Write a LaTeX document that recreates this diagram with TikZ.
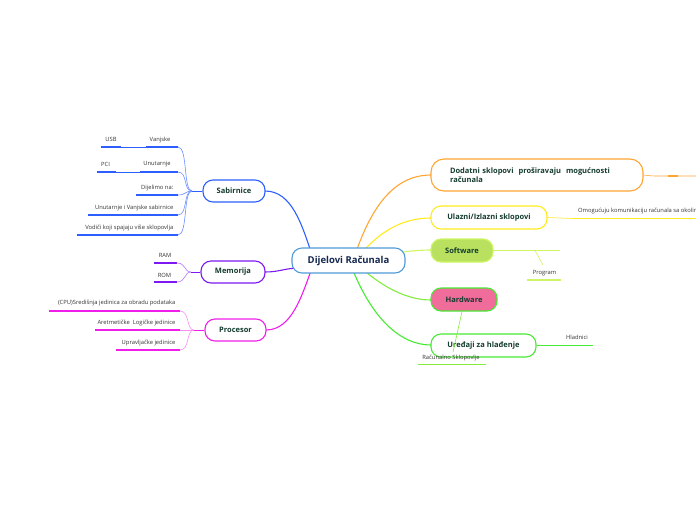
\documentclass[tikz,border=0pt]{standalone}
\usepackage{fontspec}
\setmainfont{Open Sans}
\begin{document}
\begin{tikzpicture}[x=1pt,y=-1pt,
  main/.style={draw=cblue!70!white,line width=1.1pt,fill=white,rounded corners=10pt,minimum width=113pt,minimum height=25pt,inner sep=0pt,font=\fontsize{9.5}{11}\bfseries\selectfont,text=tnavy},
  topic/.style={line width=1.1pt,fill=white,rounded corners=10pt,minimum height=22pt,inner sep=0pt,font=\fontsize{7.5}{9}\bfseries\selectfont,text=tgreen},
  leaf/.style={inner sep=0pt,font=\fontsize{5.8}{6.5}\selectfont,text=black!80},
  uline/.style={line width=1.6pt},
  conn/.style={line width=0.6pt},
  big/.style={line width=1.1pt}
]
\definecolor{cblue}{RGB}{40,100,200}
\definecolor{tnavy}{RGB}{20,40,80}
\definecolor{tgreen}{RGB}{20,60,45}
\definecolor{sab}{RGB}{45,95,255}
\definecolor{mem}{RGB}{125,25,240}
\definecolor{pro}{RGB}{240,30,235}
\definecolor{ora}{RGB}{255,165,50}
\definecolor{yel}{RGB}{255,235,30}
\definecolor{sw}{RGB}{185,225,95}
\definecolor{swl}{RGB}{205,245,100}
\definecolor{hw}{RGB}{240,108,155}
\definecolor{grn}{RGB}{70,235,50}
\definecolor{lgrn}{RGB}{130,235,60}
\definecolor{cenb}{RGB}{80,155,215}
\useasboundingbox (0,0) rectangle (696,520);

% ---- main curves (drawn first, covered by nodes)
\draw[big,sab] (265,191) .. controls (292,191) and (302,225) .. (312,255);
\draw[big,mem] (265,272) .. controls (280,272) and (285,268) .. (300,268);
\draw[big,pro] (266,330) .. controls (292,330) and (302,295) .. (312,268);
\draw[big,ora] (355,255) .. controls (372,205) and (395,175) .. (431,175);
\draw[big,yel] (360,255) .. controls (385,225) and (410,218) .. (431,218);
\draw[big,swl] (395,253) .. controls (410,251) and (420,250) .. (431,250);
\draw[big,lgrn] (358,265) .. controls (385,290) and (410,300) .. (431,300);
\draw[big,grn] (352,268) .. controls (372,318) and (400,345) .. (431,345);

% ---- main nodes
\node[main,draw=cenb] (root) at (348.5,260.5) {Dijelovi Računala};
\node[topic,draw=sab,minimum width=62pt] (sabn) at (234,191) {Sabirnice};
\node[topic,draw=mem,minimum width=64pt] (memn) at (233,272) {Memorija};
\node[topic,draw=pro,minimum width=61pt] (pron) at (235.5,330) {Procesor};
\node[topic,draw=ora,minimum width=212pt,minimum height=32pt,align=left,text width=174pt,rounded corners=13pt] (dod) at (537,175) {Dodatni sklopovi\ \ proširavaju\ \ mogućnosti\\računala};
\node[topic,draw=yel,minimum width=116pt,minimum height=23pt] (ulaz) at (489,217.5) {Ulazni/Izlazni sklopovi};
\node[topic,draw=swl,fill=sw,minimum width=62pt,minimum height=23pt] (soft) at (462,250.5) {Software};
\node[topic,draw=grn,fill=hw,minimum width=66pt,minimum height=23pt] (hard) at (464,299.5) {Hardware};
\node[topic,draw=grn,minimum width=105pt,minimum height=23pt] (ured) at (483.5,345.5) {Uređaji za hlađenje};

% ---- Sabirnice leaves
\coordinate (sj) at (192,191);
\draw[conn,sab] (sabn.west) -- (sj);
\node[leaf] (vanj) at (160,139.5) {Vanjske};
\node[leaf] (usb) at (111,139.5) {USB};
\coordinate (vanjA) at (146,147); \coordinate (vanjB) at (178,147);
\coordinate (usbA) at (101,147); \coordinate (usbB) at (121,147);
\draw[uline,sab] (vanjA) -- (vanjB); \draw[uline,sab] (usbA) -- (usbB);
\draw[conn,sab] (usbB) -- (vanjA);
\node[leaf] (unut) at (157,164) {Unutarnje};
\node[leaf] (pci) at (105.5,164) {PCI};
\coordinate (unutA) at (140,172); \coordinate (unutB) at (178,172);
\coordinate (pciA) at (97,172); \coordinate (pciB) at (116,172);
\draw[uline,sab] (unutA) -- (unutB); \draw[uline,sab] (pciA) -- (pciB);
\draw[conn,sab] (pciB) -- (unutA);
\node[leaf,anchor=east] (dij) at (173.5,188) {Dijelimo na:};
\coordinate (dijA) at (136,195); \coordinate (dijB) at (178,195);
\draw[uline,sab] (dijA) -- (dijB);
\node[leaf,anchor=east] (uiv) at (173.5,208) {Unutarnje i Vanjske sabirnice};
\coordinate (uivA) at (88,215); \coordinate (uivB) at (178,215);
\draw[uline,sab] (uivA) -- (uivB);
\node[leaf,anchor=east] (vod) at (173.5,228) {Vodiči koji spajaju više sklopovlja};
\coordinate (vodA) at (77,235); \coordinate (vodB) at (178,235);
\draw[uline,sab] (vodA) -- (vodB);
\draw[conn,sab!70!white] (sj) .. controls (183,191) and (188,147) .. (vanjB);
\draw[conn,sab!70!white] (sj) .. controls (183,191) and (188,172) .. (unutB);
\draw[conn,sab!70!white] (sj) .. controls (185,191) and (186,195) .. (dijB);
\draw[conn,sab!70!white] (sj) .. controls (183,191) and (188,215) .. (uivB);
\draw[conn,sab!70!white] (sj) .. controls (183,191) and (188,235) .. (vodB);

% ---- Memorija leaves
\coordinate (mj) at (191,272);
\draw[conn,mem] (memn.west) -- (mj);
\node[leaf] (ram) at (165,255.5) {RAM};
\coordinate (ramA) at (154,263); \coordinate (ramB) at (177,263);
\draw[uline,mem] (ramA) -- (ramB);
\node[leaf] (rom) at (164.5,275) {ROM};
\coordinate (romA) at (154,282); \coordinate (romB) at (177,282);
\draw[uline,mem] (romA) -- (romB);
\draw[conn,mem!60!white] (mj) .. controls (184,272) and (186,263) .. (ramB);
\draw[conn,mem!60!white] (mj) .. controls (184,272) and (186,282) .. (romB);

% ---- Procesor leaves
\coordinate (pj) at (194,330);
\draw[conn,pro] (pron.west) -- (pj);
\node[leaf,anchor=east] (cpu) at (175.5,303) {(CPU)Središnja jedinica za obradu podataka};
\coordinate (cpuA) at (49,311); \coordinate (cpuB) at (180,311);
\draw[uline,pro] (cpuA) -- (cpuB);
\node[leaf,anchor=east] (aret) at (175.5,322.5) {Aretmetičke\ \ Logičke jedinice};
\coordinate (aretA) at (95,330); \coordinate (aretB) at (180,330);
\draw[uline,pro] (aretA) -- (aretB);
\node[leaf,anchor=east] (upr) at (175.5,342.5) {Upravljačke jedinice};
\coordinate (uprA) at (116,350); \coordinate (uprB) at (180,350);
\draw[uline,pro] (uprA) -- (uprB);
\draw[conn,pro!50!white] (pj) .. controls (186,330) and (190,311) .. (cpuB);
\draw[conn,pro!50!white] (pj) -- (aretB);
\draw[conn,pro!50!white] (pj) .. controls (186,330) and (190,350) .. (uprB);

% ---- right leaves
\coordinate (dodA) at (668,176); \coordinate (dodB) at (678,176);
\draw[conn,ora] (dod.east) .. controls (650,176) .. (dodA) -- (696,176);
\draw[uline,ora] (dodA) -- (dodB);

\node[leaf,anchor=west] (omo) at (578,210.5) {Omogućuju komunikaciju računala sa okolinom};
\coordinate (omoA) at (573,218.5); \coordinate (omoB) at (710,218.5);
\draw[conn,yel] (ulaz.east) -- (omoA);
\draw[uline,yel] (omoA) -- (omoB);

\coordinate (swA) at (560,250.5); \coordinate (swK) at (535,250.5);
\draw[conn,swl] (soft.east) -- (swA);
\node[leaf] (prog) at (544.5,273) {Program};
\coordinate (progA) at (527,280); \coordinate (progB) at (561,280);
\coordinate (progT) at (543,265);
\draw[uline,swl] (progA) -- (progB);
\draw[conn,swl] (swK) -- (progT);

\node[leaf] (rac) at (451,357.5) {Računalno Sklopovlje};
\coordinate (racA) at (418,364.5); \coordinate (racB) at (486,364.5);
\coordinate (racT) at (453,352);
\draw[uline,lgrn] (racA) -- (racB);
\draw[conn,lgrn] (hard.south) ++(-2,0) -- (racT);

\node[leaf] (hlad) at (577,337.5) {Hladnici};
\coordinate (hladA) at (565,345.5); \coordinate (hladB) at (593,345.5);
\draw[conn,grn] (ured.east) -- (hladA);
\draw[uline,grn] (hladA) -- (hladB);
\end{tikzpicture}
\end{document}
